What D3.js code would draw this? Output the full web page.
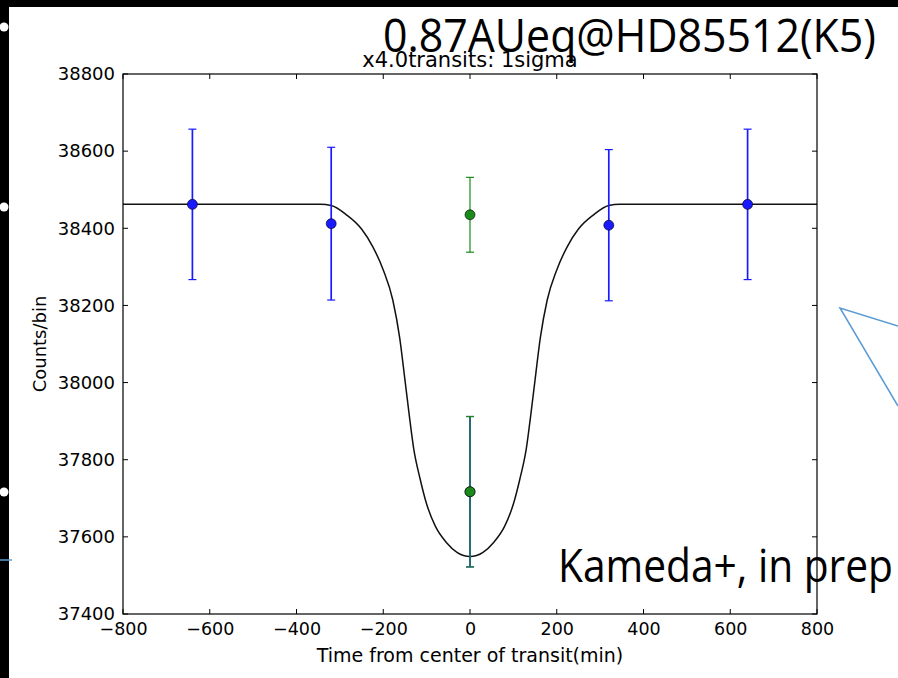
<!DOCTYPE html>
<html>
<head>
<meta charset="utf-8">
<script src="https://cdn.jsdelivr.net/npm/d3@7"></script>
<style>
  html, body { margin: 0; padding: 0; background: #000; }
  svg { display: block; }
</style>
</head>
<body>
<svg id="chart"></svg>
<script>
// tick values
const xTicks = [-800, -600, -400, -200, 0, 200, 400, 600, 800];
const yTicks = [37400, 37600, 37800, 38000, 38200, 38400, 38600, 38800];

// binned counts, one sigma errors
const blueTimes = [-640, -320, 0, 320, 640];
const blueCounts = [38462, 38412, 37717, 38408, 38462];
const blueErrors = [195, 198, 195, 196, 195];

const greenTimes = [0, 0];
const greenCounts = [38435, 37717];
const greenErrors = [97, 195];

// transit model
const modelTimes = [-800, -345, -320, -285, -250, -224, -200, -178, -162, -150, -140, -130, -115, -100, -80, -54, -30, 0,
                    30, 54, 80, 100, 115, 130, 140, 150, 162, 178, 200, 224, 250, 285, 320, 345, 800];
const modelCounts = [38462, 38462, 38459, 38435, 38398, 38352, 38292, 38214, 38115, 38007, 37915, 37830, 37750, 37685, 37628, 37585, 37560, 37549,
                     37560, 37585, 37628, 37685, 37750, 37830, 37915, 38007, 38115, 38214, 38292, 38352, 38398, 38435, 38459, 38462, 38462];

const W = 898, H = 678;
let svg = d3.select("#chart").attr("width", W).attr("height", H);

// slide background
svg.append("rect").attr("x", 9).attr("y", 7).attr("width", W - 9).attr("height", H - 7).attr("fill", "#fff");

// bullets on the black edge
[27, 207, 492].forEach(by => {
    svg.append("circle").attr("cx", 4).attr("cy", by).attr("r", 4.5).attr("fill", "#fff");
});
svg.append("line").attr("x1", 0).attr("x2", 12).attr("y1", 560).attr("y2", 560)
    .attr("stroke", "#5b9bd5").attr("stroke-width", 1.5);

let margin = {top: 74, right: W - 817, bottom: H - 614, left: 123},
    width = W - margin.left - margin.right,
    height = H - margin.top - margin.bottom,
    g = svg.append("g").attr("transform", "translate(" + margin.left + "," + margin.top + ")");

let x = d3.scaleLinear().domain([-800, 800]).range([0, width]);
let y = d3.scaleLinear().domain([37400, 38800]).range([height, 0]);

const tickFont = "'DejaVu Sans', sans-serif";

// bottom axis labels
g.append("g")
    .attr("transform", "translate(0," + height + ")")
    .call(d3.axisBottom(x).tickValues(xTicks).tickSize(0).tickPadding(9).tickFormat(d => d3.format("d")(d).replace("-", "\u2212")))
    .call(a => a.select(".domain").remove())
    .selectAll("text").attr("font-family", tickFont).attr("font-size", 17.5).attr("fill", "#000");

g.append("g")
    .call(d3.axisLeft(y).tickValues(yTicks).tickSize(0).tickPadding(8).tickFormat(d3.format("d")))
    .call(a => a.select(".domain").remove())
    .selectAll("text").attr("font-family", tickFont).attr("font-size", 18).attr("fill", "#000");

// inward ticks on all four sides
const tl = 5;
g.append("g").selectAll("line").data(xTicks).enter().append("line")
    .attr("x1", d => x(d)).attr("x2", d => x(d)).attr("y1", height).attr("y2", height - tl)
    .attr("stroke", "#000");
g.append("g").selectAll("line").data(xTicks).enter().append("line")
    .attr("x1", d => x(d)).attr("x2", d => x(d)).attr("y1", 0).attr("y2", tl)
    .attr("stroke", "#000");
g.append("g").selectAll("line").data(yTicks).enter().append("line")
    .attr("x1", 0).attr("x2", tl).attr("y1", d => y(d)).attr("y2", d => y(d))
    .attr("stroke", "#000");
g.append("g").selectAll("line").data(yTicks).enter().append("line")
    .attr("x1", width).attr("x2", width - tl).attr("y1", d => y(d)).attr("y2", d => y(d))
    .attr("stroke", "#000");

// model curve
let line = d3.line()
    .curve(d3.curveMonotoneX)
    .x(d => x(d[0]))
    .y(d => y(d[1]));
g.append("path")
    .datum(d3.zip(modelTimes, modelCounts))
    .attr("fill", "none")
    .attr("stroke", "#111")
    .attr("stroke-width", 1.5)
    .attr("d", line);

function errorBars(times, counts, errors, color, sw) {
    let rows = d3.zip(times, counts, errors);
    let eb = g.append("g");
    eb.selectAll("line.bar").data(rows).enter().append("line")
        .attr("x1", d => x(d[0])).attr("x2", d => x(d[0]))
        .attr("y1", d => y(d[1] - d[2])).attr("y2", d => y(d[1] + d[2]))
        .attr("stroke", color).attr("stroke-width", sw);
    [-1, 1].forEach(s => {
        eb.selectAll("line.cap" + s).data(rows).enter().append("line")
            .attr("x1", d => x(d[0]) - 4).attr("x2", d => x(d[0]) + 4)
            .attr("y1", d => y(d[1] + s * d[2])).attr("y2", d => y(d[1] + s * d[2]))
            .attr("stroke", color).attr("stroke-width", 1.2);
    });
    eb.selectAll("circle").data(rows).enter().append("circle")
        .attr("cx", d => x(d[0])).attr("cy", d => y(d[1])).attr("r", 5)
        .attr("fill", color).attr("stroke", "#000").attr("stroke-width", 0.6);
}
errorBars(blueTimes, blueCounts, blueErrors, "#1a1aff", 1.7);
errorBars(greenTimes, greenCounts, greenErrors, "#1a8a1a", 1.2);

// frame
g.append("rect").attr("width", width).attr("height", height)
    .attr("fill", "none").attr("stroke", "#000").attr("stroke-width", 1.2);

// titles
svg.append("text").attr("x", margin.left + width / 2).attr("y", 67)
    .attr("text-anchor", "middle").attr("font-family", tickFont).attr("font-size", 21)
    .text("x4.0transits: 1sigma");
svg.append("text").attr("x", margin.left + width / 2).attr("y", 662)
    .attr("text-anchor", "middle").attr("font-family", tickFont).attr("font-size", 19)
    .text("Time from center of transit(min)");
svg.append("text").attr("transform", "translate(46," + (margin.top + height / 2) + ") rotate(-90)")
    .attr("text-anchor", "middle").attr("font-family", tickFont).attr("font-size", 18)
    .text("Counts/bin");

// slide annotations
svg.append("text").attr("x", 383).attr("y", 52)
    .attr("font-family", "'Open Sans', 'Noto Sans', sans-serif").attr("font-size", 45)
    .attr("textLength", 493).attr("lengthAdjust", "spacingAndGlyphs")
    .text("0.87AUeq@HD85512(K5)");
svg.append("text").attr("x", 558).attr("y", 582)
    .attr("font-family", "'Open Sans', 'Noto Sans', sans-serif").attr("font-size", 45)
    .attr("textLength", 335).attr("lengthAdjust", "spacingAndGlyphs")
    .text("Kameda+, in prep");

// callout shape edge
svg.append("polyline")
    .attr("points", [[898, 326], [840, 308], [898, 406]].map(p => p.join(",")).join(" "))
    .attr("fill", "none").attr("stroke", "#5b9bd5").attr("stroke-width", 1.5);
</script>
</body>
</html>
